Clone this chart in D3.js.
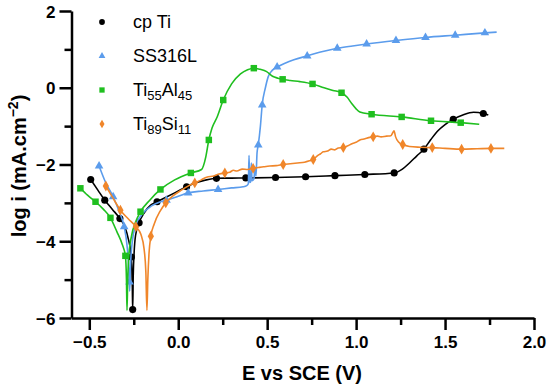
<!DOCTYPE html>
<html>
<head>
<meta charset="utf-8">
<script src="https://cdn.jsdelivr.net/npm/d3@7"></script>
<style>
	body { margin: 0; background: #fff; }
	svg { display: block; font-family: "Liberation Sans", Arial, sans-serif; }
	.axis path, .axis line { stroke: #000; stroke-width: 2.5; }
	.axis text { font-size: 17px; font-weight: bold; fill: #000; }
</style>
</head>
<body>
<svg width="550" height="388"></svg>
<script>
// polarization curves [E (V), log i]
const cpTiLine = [[-0.492,-2.39],[-0.45,-2.68],[-0.413,-2.93],[-0.37,-3.17],[-0.328,-3.41],[-0.3,-3.62],[-0.28,-3.95],[-0.268,-4.25],[-0.262,-4.6],[-0.258,-5.2],[-0.256,-5.78],[-0.253,-4.9],[-0.248,-4.3],[-0.24,-3.85],[-0.22,-3.52],[-0.19,-3.25],[-0.155,-3.06],[-0.119,-2.97],[-0.08,-2.88],[-0.02,-2.74],[0.047,-2.58],[0.1,-2.47],[0.15,-2.41],[0.215,-2.36],[0.3,-2.355],[0.38,-2.35],[0.547,-2.34],[0.716,-2.32],[0.881,-2.29],[1.049,-2.26],[1.214,-2.22],[1.26,-2.12],[1.3,-1.96],[1.34,-1.78],[1.381,-1.6],[1.42,-1.35],[1.46,-1.12],[1.5,-0.96],[1.546,-0.82],[1.6,-0.71],[1.66,-0.64],[1.715,-0.67],[1.743,-0.71]];
const cpTiMarks = [[-0.492,-2.39],[-0.413,-2.93],[-0.328,-3.41],[-0.263,-4.41],[-0.256,-5.78],[-0.22,-3.52],[-0.119,-2.97],[0.047,-2.58],[0.215,-2.36],[0.38,-2.35],[0.547,-2.34],[0.716,-2.32],[0.881,-2.29],[1.049,-2.26],[1.214,-2.22],[1.381,-1.6],[1.546,-0.82],[1.715,-0.67]];

const ssLine = [[-0.445,-2.04],[-0.41,-2.45],[-0.366,-2.84],[-0.33,-3.25],[-0.304,-3.62],[-0.288,-4.1],[-0.278,-4.7],[-0.273,-5.3],[-0.268,-4.6],[-0.258,-4.0],[-0.24,-3.6],[-0.2,-3.28],[-0.15,-3.08],[-0.1,-2.97],[-0.066,-2.93],[0.0,-2.83],[0.056,-2.74],[0.14,-2.69],[0.224,-2.65],[0.3,-2.61],[0.365,-2.58],[0.385,-2.55],[0.394,-2.5],[0.398,-1.76],[0.402,-2.47],[0.408,-2.44],[0.411,-1.96],[0.415,-2.42],[0.425,-2.38],[0.432,-2.08],[0.437,-2.3],[0.443,-1.7],[0.45,-1.49],[0.462,-1.0],[0.472,-0.45],[0.49,0.0],[0.506,0.29],[0.53,0.46],[0.556,0.54],[0.6,0.64],[0.65,0.73],[0.725,0.83],[0.8,0.93],[0.894,1.03],[0.98,1.09],[1.059,1.14],[1.224,1.23],[1.39,1.31],[1.557,1.37],[1.724,1.43],[1.79,1.45]];
const ssMarks = [[-0.445,-2.04],[-0.366,-2.84],[-0.304,-3.62],[-0.274,-5.06],[-0.066,-2.93],[0.056,-2.74],[0.224,-2.65],[0.45,-1.49],[0.472,-0.45],[0.556,0.54],[0.725,0.83],[0.894,1.03],[1.059,1.14],[1.224,1.23],[1.39,1.31],[1.557,1.37],[1.724,1.43]];

const tiAlLine = [[-0.55,-2.62],[-0.51,-2.8],[-0.465,-2.97],[-0.42,-3.17],[-0.381,-3.39],[-0.345,-3.75],[-0.315,-4.08],[-0.297,-4.38],[-0.291,-5.0],[-0.288,-5.8],[-0.284,-5.0],[-0.277,-4.35],[-0.262,-3.85],[-0.24,-3.5],[-0.212,-3.23],[-0.16,-2.93],[-0.1,-2.65],[-0.02,-2.4],[0.071,-2.22],[0.131,-2.13],[0.155,-1.8],[0.172,-1.36],[0.19,-1.05],[0.22,-0.75],[0.253,-0.32],[0.3,0.1],[0.35,0.36],[0.39,0.47],[0.425,0.51],[0.46,0.48],[0.497,0.42],[0.53,0.3],[0.56,0.25],[0.587,0.22],[0.63,0.19],[0.684,0.16],[0.755,0.1],[0.82,0.0],[0.87,-0.07],[0.918,-0.13],[0.95,-0.25],[0.975,-0.41],[1.0,-0.55],[1.021,-0.63],[1.087,-0.69],[1.256,-0.76],[1.421,-0.86],[1.588,-0.91],[1.692,-0.95]];
const tiAlMarks = [[-0.55,-2.62],[-0.465,-2.97],[-0.381,-3.39],[-0.297,-4.38],[-0.212,-3.23],[-0.1,-2.65],[0.071,-2.22],[0.172,-1.36],[0.253,-0.32],[0.425,0.51],[0.587,0.22],[0.755,0.1],[0.918,-0.13],[1.087,-0.69],[1.256,-0.76],[1.421,-0.86],[1.588,-0.91]];

const tiSiLine = [[-0.407,-2.56],[-0.37,-2.85],[-0.325,-3.19],[-0.28,-3.42],[-0.238,-3.62],[-0.21,-3.82],[-0.192,-4.2],[-0.182,-4.8],[-0.176,-5.8],[-0.171,-5.0],[-0.164,-4.3],[-0.154,-3.87],[-0.135,-3.55],[-0.1,-3.2],[-0.07,-3.0],[-0.03,-2.82],[0.02,-2.66],[0.06,-2.55],[0.093,-2.48],[0.13,-2.4],[0.16,-2.33],[0.2,-2.3],[0.23,-2.25],[0.262,-2.22],[0.29,-2.2],[0.31,-2.15],[0.33,-2.17],[0.36,-2.12],[0.39,-2.13],[0.421,-2.1],[0.45,-2.08],[0.48,-2.06],[0.515,-2.04],[0.55,-2.03],[0.59,-2.0],[0.63,-1.98],[0.67,-1.96],[0.71,-1.94],[0.74,-1.9],[0.759,-1.87],[0.78,-1.78],[0.8,-1.72],[0.815,-1.67],[0.84,-1.65],[0.86,-1.6],[0.88,-1.62],[0.9,-1.57],[0.928,-1.56],[0.95,-1.52],[0.98,-1.45],[1.0,-1.42],[1.021,-1.36],[1.05,-1.33],[1.07,-1.3],[1.096,-1.28],[1.12,-1.26],[1.14,-1.28],[1.171,-1.26],[1.195,-1.25],[1.205,-1.18],[1.213,-1.12],[1.222,-1.28],[1.24,-1.42],[1.262,-1.48],[1.3,-1.53],[1.36,-1.55],[1.428,-1.56],[1.5,-1.58],[1.593,-1.6],[1.68,-1.59],[1.758,-1.58],[1.833,-1.58]];
const tiSiMarks = [[-0.407,-2.56],[-0.325,-3.19],[-0.238,-3.62],[-0.154,-3.87],[-0.07,-3.0],[0.093,-2.48],[0.262,-2.22],[0.421,-2.1],[0.59,-2.0],[0.759,-1.87],[0.928,-1.56],[1.096,-1.28],[1.262,-1.48],[1.428,-1.56],[1.593,-1.6],[1.758,-1.58]];

const xMajor = [-0.5, 0, 0.5, 1, 1.5, 2];
const xMinor = [-0.25, 0.25, 0.75, 1.25, 1.75];
const yMajor = [-6, -4, -2, 0, 2];
const yMinor = [-5, -3, -1, 1];

const series = [
	{ name: 'cp Ti', line: cpTiLine, marks: cpTiMarks, color: '#000000', shape: d3.symbolCircle, size: 40, legendSize: 26 },
	{ name: 'SS316L', line: ssLine, marks: ssMarks, color: '#5b9cec', shape: d3.symbolTriangle, size: 32, legendSize: 20 },
	{ name: 'Ti55Al45', line: tiAlLine, marks: tiAlMarks, color: '#1fbf1f', shape: d3.symbolSquare, size: 42, legendSize: 28 },
	{ name: 'Ti89Si11', line: tiSiLine, marks: tiSiMarks, color: '#f0862a', shape: d3.symbolDiamond, size: 34, legendSize: 22 }
];

const svg = d3.select('svg');
const x = d3.scaleLinear().domain([-0.6, 2.0]).range([71.5, 534]);
const y = d3.scaleLinear().domain([-6, 2]).range([318, 11]);

const fmt = d3.format('.1f');

// minor ticks first
svg.append('g').attr('class', 'axis').attr('transform', 'translate(0,318)')
	.call(d3.axisBottom(x).tickValues(xMinor).tickSize(7).tickFormat(''))
	.select('.domain').remove();
svg.append('g').attr('class', 'axis').attr('transform', 'translate(71.5,0)')
	.call(d3.axisLeft(y).tickValues(yMinor).tickSize(7).tickFormat(''))
	.select('.domain').remove();

const xAxis = svg.append('g').attr('class', 'axis').attr('transform', 'translate(0,318)')
	.call(d3.axisBottom(x).tickValues(xMajor).tickSize(12).tickSizeOuter(0).tickPadding(6).tickFormat(d => fmt(d).replace('-', '\u2212')));
const yAxis = svg.append('g').attr('class', 'axis').attr('transform', 'translate(71.5,0)')
	.call(d3.axisLeft(y).tickValues(yMajor).tickSize(12).tickSizeOuter(0).tickPadding(4).tickFormat(d => String(d).replace('-', '\u2212')));
yAxis.selectAll('text').attr('dy', '0.36em');

svg.append('text').attr('x', 302).attr('y', 380)
	.attr('text-anchor', 'middle').attr('font-size', 20).attr('font-weight', 'bold')
	.text('E vs SCE (V)');

const yt = svg.append('text').attr('transform', 'translate(26,166) rotate(-90)')
	.attr('text-anchor', 'middle').attr('font-size', 20).attr('font-weight', 'bold');
yt.append('tspan').text('log i (mA.cm');
yt.append('tspan').attr('dy', -8).attr('font-size', 14).text('\u22122');
yt.append('tspan').attr('dy', 8).text(')');

const line = d3.line().x(d => x(d[0])).y(d => y(d[1])).curve(d3.curveMonotoneX);

series.forEach(s => {
	svg.append('path').datum(s.line)
		.attr('fill', 'none').attr('stroke', s.color).attr('stroke-width', 1.6)
		.attr('d', line);
	svg.append('g').selectAll('path').data(s.marks).join('path')
		.attr('transform', d => `translate(${x(d[0])},${y(d[1])})`)
		.attr('d', d3.symbol().type(s.shape).size(s.size))
		.attr('fill', s.color);
});

// legend
const legendRows = [22, 56, 90, 124];
series.forEach((s, i) => {
	const g = svg.append('g').attr('transform', `translate(102,${legendRows[i]})`);
	g.append('path').attr('d', d3.symbol().type(s.shape).size(s.legendSize)).attr('fill', s.color);
	const t = g.append('text').attr('x', 31).attr('y', 6).attr('font-size', 18).attr('fill', '#000');
	const m = s.name.match(/^([A-Za-z]+)(\d+)([A-Za-z]+)(\d+)$/);
	if (m) {
		t.append('tspan').text(m[1]);
		t.append('tspan').attr('font-size', 13).attr('dy', 4).text(m[2]);
		t.append('tspan').attr('dy', -4).text(m[3]);
		t.append('tspan').attr('font-size', 13).attr('dy', 4).text(m[4]);
	} else {
		t.text(s.name);
	}
});
</script>
</body>
</html>
